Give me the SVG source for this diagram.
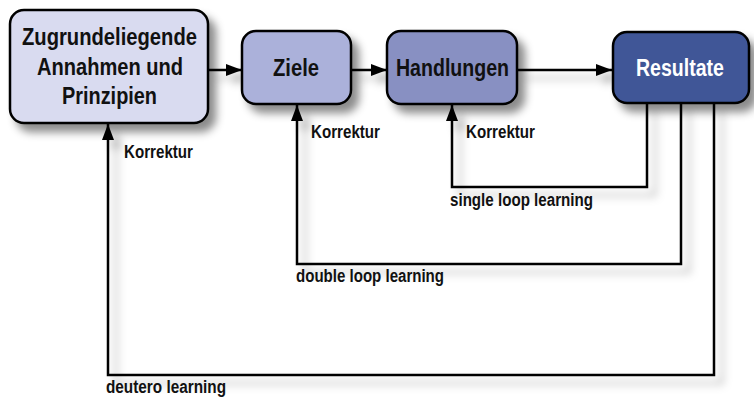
<svg xmlns="http://www.w3.org/2000/svg" width="754" height="398" viewBox="0 0 754 398">
<defs>
<filter id="sh" x="-20%" y="-20%" width="150%" height="160%">
<feDropShadow dx="7" dy="8" stdDeviation="4" flood-color="#000" flood-opacity="0.45"/>
</filter>
<filter id="lsh" x="-10%" y="-10%" width="130%" height="130%">
<feDropShadow dx="8" dy="8" stdDeviation="4" flood-color="#000" flood-opacity="0.3"/>
</filter>
<marker id="ah" viewBox="0 0 16 12" refX="16" refY="6" markerWidth="16" markerHeight="12" markerUnits="userSpaceOnUse" orient="auto">
<path d="M0,0 L16,6 L0,12 Z" fill="#000"/>
</marker>
</defs>
<style>
.box{stroke:#000;stroke-width:2.5}
.nt{font-family:"Liberation Sans",Arial,sans-serif;font-weight:bold;font-size:23px;fill:#111;text-anchor:start}
.lb{font-family:"Liberation Sans",Arial,sans-serif;font-weight:bold;font-size:17.5px;fill:#111}
.ln{fill:none;stroke:#000;stroke-width:2.5}
</style>
<rect width="754" height="398" fill="#fff"/>
<g id="connectors" filter="url(#lsh)">
<line class="ln" x1="208" y1="70" x2="242" y2="70" marker-end="url(#ah)"/>
<line class="ln" x1="351" y1="70" x2="387" y2="70" marker-end="url(#ah)"/>
<line class="ln" x1="517" y1="70" x2="612" y2="70" marker-end="url(#ah)"/>
<polyline class="ln" points="647,103 647,187 452,187 452,105" marker-end="url(#ah)"/>
<polyline class="ln" points="681,103 681,264 297,264 297,105" marker-end="url(#ah)"/>
<polyline class="ln" points="714,103 714,375 108,375 108,124" marker-end="url(#ah)"/>
</g>
<g id="node-annahmen">
<rect class="box" x="10" y="10" width="198" height="113" rx="14" fill="#d9dbf0" filter="url(#sh)"/>
<text class="nt" x="22" y="45" textLength="175" lengthAdjust="spacingAndGlyphs">Zugrundeliegende</text>
<text class="nt" x="37" y="75" textLength="146" lengthAdjust="spacingAndGlyphs">Annahmen und</text>
<text class="nt" x="62" y="104" textLength="95" lengthAdjust="spacingAndGlyphs">Prinzipien</text>
</g>
<g id="node-ziele">
<rect class="box" x="242" y="31" width="109" height="73" rx="14" fill="#abb1da" filter="url(#sh)"/>
<text class="nt" x="273" y="76" textLength="46" lengthAdjust="spacingAndGlyphs">Ziele</text>
</g>
<g id="node-handlungen">
<rect class="box" x="387" y="31" width="130" height="73" rx="14" fill="#8890c2" filter="url(#sh)"/>
<text class="nt" x="396" y="76" textLength="113" lengthAdjust="spacingAndGlyphs">Handlungen</text>
</g>
<g id="node-resultate">
<rect class="box" x="613" y="32" width="136" height="71" rx="14" fill="#3f5697" filter="url(#sh)"/>
<text class="nt" x="636" y="76" textLength="88" lengthAdjust="spacingAndGlyphs" style="fill:#fff">Resultate</text>
</g>
<g id="labels">
<text class="lb" x="124" y="158" textLength="69" lengthAdjust="spacingAndGlyphs">Korrektur</text>
<text class="lb" x="311" y="138" textLength="69" lengthAdjust="spacingAndGlyphs">Korrektur</text>
<text class="lb" x="466" y="138" textLength="69" lengthAdjust="spacingAndGlyphs">Korrektur</text>
<text class="lb" x="450" y="206" textLength="143" lengthAdjust="spacingAndGlyphs">single loop learning</text>
<text class="lb" x="296" y="282" textLength="148" lengthAdjust="spacingAndGlyphs">double loop learning</text>
<text class="lb" x="106" y="393" textLength="120" lengthAdjust="spacingAndGlyphs">deutero learning</text>
</g>
</svg>
